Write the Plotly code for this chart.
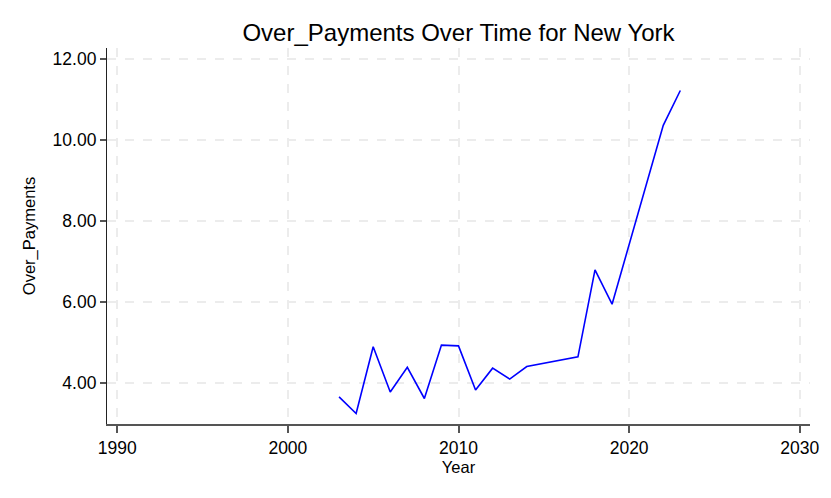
import plotly.graph_objects as go

years = [2003, 2004, 2005, 2006, 2007, 2008, 2009, 2010, 2011, 2012, 2013, 2014,
         2017, 2018, 2019, 2022, 2023]
over_payments = [3.65, 3.24, 4.89, 3.77, 4.38, 3.61, 4.93, 4.91, 3.82, 4.36, 4.09, 4.40,
                 4.64, 6.79, 5.94, 10.36, 11.22]
x_ticks = [1990, 2000, 2010, 2020, 2030]
y_ticks = [4, 6, 8, 10, 12]

fig = go.Figure()
fig.add_trace(go.Scatter(x=years, y=over_payments, mode="lines",
                         line=dict(color="#0000ff", width=1.6)))

# page body has an 8px margin, so the figure is a bit smaller than the window
fig.update_layout(
    width=823, height=490,
    margin=dict(l=99, r=18, t=40, b=74),
    paper_bgcolor="white", plot_bgcolor="white",
    font=dict(family="Liberation Sans, Arial, sans-serif", size=16, color="black"),
    title=dict(text="Over_Payments Over Time for New York", x=0.5, xref="paper",
               y=0.949, yanchor="middle", font=dict(size=24, color="black")),
    showlegend=False,
)
fig.update_xaxes(
    range=[1989.4, 2030.6], tickvals=x_ticks, title_text="Year",
    tickfont=dict(size=17.5), title_font=dict(size=16.5),
    showline=True, linecolor="#555555", linewidth=1.5,
    ticks="outside", ticklen=7, tickcolor="#555555", tickwidth=1.5,
    showgrid=True, gridcolor="#ececec", griddash="dash", gridwidth=1.5,
    zeroline=False, title_standoff=5,
)
fig.update_yaxes(
    range=[2.98, 12.27], tickvals=y_ticks, tickformat=".2f", title_text="Over_Payments",
    tickfont=dict(size=17.5), title_font=dict(size=16.5),
    showline=True, linecolor="#222222", linewidth=1.2,
    ticks="outside", ticklen=6, tickcolor="#555555", tickwidth=1.5,
    showgrid=True, gridcolor="#ececec", griddash="dash", gridwidth=1.5,
    zeroline=False, title_standoff=12,
)

fig.write_html("out.html")
